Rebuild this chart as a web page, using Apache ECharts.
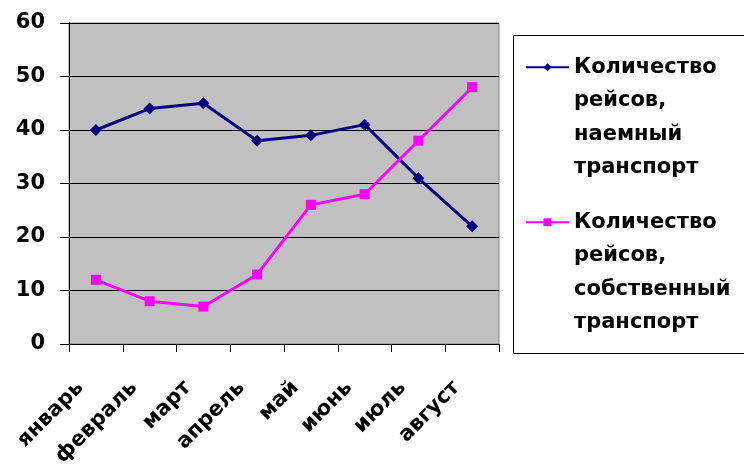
<!DOCTYPE html>
<html>
<head>
<meta charset="utf-8">
<script src="https://cdn.jsdelivr.net/npm/echarts@6/dist/echarts.min.js"></script>
<style>html,body{margin:0;padding:0;background:#fff}#c{width:744px;height:464px}</style>
</head>
<body>
<div id="c"></div>
<script>
const categories = ['январь','февраль','март','апрель','май','июнь','июль','август'];
const hiredTrips = [40, 44, 45, 38, 39, 41, 31, 22];
const ownTrips = [12, 8, 7, 13, 26, 28, 38, 48];
const seriesNames = ['Количество\nрейсов,\nнаемный\nтранспорт', 'Количество\nрейсов,\nсобственный\nтранспорт'];
const yTicks = [0, 10, 20, 30, 40, 50, 60];

const chart = echarts.init(document.getElementById('c'), null, {renderer: 'canvas'});
const font = 'DejaVu Sans';
const legendText = {fontFamily: font, fontWeight: 'bold', fontSize: 21, color: '#000', lineHeight: 33.5};
const legendFmt = function (name) { return '\n\n\n' + name; };
chart.setOption({
  animation: false,
  backgroundColor: '#fff',
  grid: {left: 69, right: 245, top: 23, bottom: 120, containLabel: false, outerBoundsMode: 'none', show: true, backgroundColor: '#C0C0C0', borderColor: '#808080', borderWidth: 1},
  xAxis: {
    type: 'category', data: categories, boundaryGap: true,
    axisLine: {lineStyle: {color: '#000', width: 1}},
    axisTick: {show: true, length: 8, alignWithLabel: false, lineStyle: {color: '#000'}},
    axisLabel: {rotate: 45, margin: 25, interval: 0, padding: [0, 22, 0, 0], fontFamily: font, fontWeight: 'bold', fontSize: 21, color: '#000'}
  },
  yAxis: {
    type: 'value', min: yTicks[0], max: yTicks[yTicks.length - 1], interval: 10,
    axisLine: {show: true, lineStyle: {color: '#000', width: 1}},
    axisTick: {show: true, length: 9, lineStyle: {color: '#000'}},
    axisLabel: {margin: 24, fontFamily: font, fontWeight: 'bold', fontSize: 21, color: '#000'},
    splitLine: {show: true, lineStyle: {color: '#000', width: 1}}
  },
  legend: [
    {data: [seriesNames[0]], formatter: legendFmt, orient: 'vertical', left: 525, top: -50, itemWidth: 43, itemHeight: 10, itemGap: 0, padding: 0, textStyle: legendText},
    {data: [seriesNames[1]], formatter: legendFmt, orient: 'vertical', left: 525, top: 105, itemWidth: 43, itemHeight: 10, itemGap: 0, padding: 0, textStyle: legendText}
  ],
  graphic: [{type: 'rect', shape: {x: 513.5, y: 35.5, width: 240, height: 318}, style: {fill: 'none', stroke: '#000', lineWidth: 1}, silent: true}],
  series: [
    {name: seriesNames[0], type: 'line', data: hiredTrips, symbol: 'diamond', symbolSize: 12, lineStyle: {color: '#000080', width: 3}, itemStyle: {color: '#000080'}},
    {name: seriesNames[1], type: 'line', data: ownTrips, symbol: 'rect', symbolSize: 10, lineStyle: {color: '#FF00FF', width: 3}, itemStyle: {color: '#FF00FF'}}
  ]
});
</script>
</body>
</html>
